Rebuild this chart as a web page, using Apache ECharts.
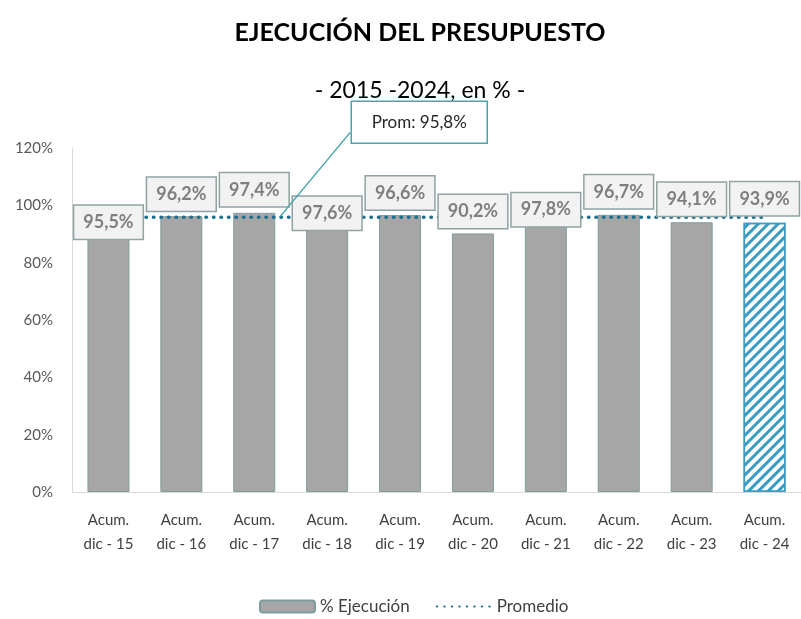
<!DOCTYPE html>
<html>
<head>
<meta charset="utf-8">
<script src="https://cdn.jsdelivr.net/npm/echarts@6/dist/echarts.min.js"></script>
<style>
	html, body { margin: 0; padding: 0; background: #fff; }
	#chart { width: 801px; height: 619px; }
</style>
</head>
<body>
<div id="chart"></div>
<script>
const categories = ['Acum.\ndic - 15', 'Acum.\ndic - 16', 'Acum.\ndic - 17', 'Acum.\ndic - 18', 'Acum.\ndic - 19',
	'Acum.\ndic - 20', 'Acum.\ndic - 21', 'Acum.\ndic - 22', 'Acum.\ndic - 23', 'Acum.\ndic - 24']
const ejecucion = [95.5, 96.2, 97.4, 97.6, 96.6, 90.2, 97.8, 96.7, 94.1, 93.9]
const promedio = 95.8
const yTicks = [0, 20, 40, 60, 80, 100, 120]

// vertical shift of each value box (Excel labels were moved by hand)
const labelShift = [4, -22, -23, 1, -22, -22, -2, -23, -23, -24]

const fmt = (v) => v.toFixed(1).replace('.', ',') + '%'
const FONT = 'Lato'

const chart = echarts.init(document.getElementById('chart'))

const barData = ejecucion.map((v, i) => {
	if (i === ejecucion.length - 1) {
		return {
			value: v,
			itemStyle: {
				color: '#ffffff',
				borderColor: '#3a9bc4',
				borderWidth: 1.5,
				decal: {
					symbol: 'rect',
					color: '#3a9bc4',
					dashArrayX: [1, 0],
					dashArrayY: [3, 3.5],
					rotation: -Math.PI / 4,
				},
			},
		}
	}
	return v
})

const option = {
	backgroundColor: '#ffffff',
	animation: false,
	title: [
		{
			text: 'EJECUCIÓN DEL PRESUPUESTO',
			left: 415,
			textAlign: 'center',
			top: 15,
			textStyle: { fontFamily: FONT, fontSize: 25, fontWeight: 'bold', color: '#000000' },
		},
		{
			text: '- 2015 -2024, en % -',
			left: 415,
			textAlign: 'center',
			top: 74,
			textStyle: { fontFamily: FONT, fontSize: 23, fontWeight: 'normal', color: '#000000' },
		},
	],
	legend: {
		data: [
			{ name: '% Ejecución' },
			{ name: 'Promedio', itemStyle: { opacity: 0 } },
		],
		bottom: -1,
		left: 254,
		itemWidth: 55,
		itemHeight: 12,
		itemGap: 26,
		textStyle: { fontFamily: FONT, fontSize: 17, color: '#404040' },
	},
	grid: { left: 72, width: 736, top: 148, bottom: 127 },
	xAxis: {
		type: 'category',
		data: categories,
		axisLine: { lineStyle: { color: '#d9d9d9', width: 1 } },
		axisTick: { show: false },
		axisLabel: {
			fontFamily: FONT,
			fontSize: 15,
			color: '#404040',
			lineHeight: 24,
			margin: 16,
			interval: 0,
		},
	},
	yAxis: {
		type: 'value',
		min: yTicks[0],
		max: yTicks[yTicks.length - 1],
		interval: 20,
		axisLine: { show: true, lineStyle: { color: '#d9d9d9', width: 1 } },
		axisTick: { show: false },
		splitLine: { show: false },
		axisLabel: {
			fontFamily: FONT,
			fontSize: 15,
			color: '#595959',
			margin: 19,
			formatter: '{value}%',
		},
	},
	series: [
		{
			name: '% Ejecución',
			type: 'bar',
			barWidth: 42,
			z: 1,
			itemStyle: { color: '#a6a6a6', borderColor: '#7f9c9c', borderWidth: 1 },
			data: barData,
		},
		{
			name: 'Promedio',
			type: 'line',
			z: 3,
			symbol: 'none',
			itemStyle: { color: '#1f6f8f' },
			lineStyle: { color: '#1f6f8f', width: 3.5, type: [0.5, 7], cap: 'round' },
			data: ejecucion.map(() => promedio),
		},
		{
			// value boxes above the bars
			name: 'labels',
			type: 'scatter',
			z: 5,
			symbolSize: 0,
			silent: true,
			itemStyle: { opacity: 1 },
			data: ejecucion.map((v, i) => ({
				value: v,
				label: { offset: [0, labelShift[i]] },
			})),
			label: {
				show: true,
				position: 'inside',
				formatter: (p) => fmt(p.value),
				fontFamily: FONT,
				fontSize: 18,
				fontWeight: 'bold',
				color: '#7f7f7f',
				backgroundColor: '#f2f2f2',
				borderColor: '#8fa3a3',
				borderWidth: 1.5,
				padding: [8, 9, 7, 9],
			},
		},
	],
}

chart.setOption(option)

// callout for the average, anchored on the average line
const anchor = chart.convertToPixel({ gridIndex: 0 }, [2, promedio])
const ax = anchor[0] + 26
const ay = anchor[1] - 1
chart.setOption({
	graphic: [
		{
			type: 'line',
			z: 10,
			shape: { x1: ax, y1: ay, x2: ax + 70, y2: ay - 84 },
			style: { stroke: '#4aa5aa', lineWidth: 1.5 },
		},
		{
			type: 'rect',
			z: 10,
			shape: { x: ax + 71, y: ay - 115, width: 136, height: 42 },
			style: { fill: '#ffffff', stroke: '#4aa5aa', lineWidth: 1.5 },
		},
		{
			type: 'text',
			z: 11,
			x: ax + 71 + 68,
			y: ay - 115 + 21,
			style: {
				text: 'Prom: ' + fmt(promedio),
				fontFamily: FONT,
				fontSize: 17,
				fill: '#262626',
				align: 'center',
				verticalAlign: 'middle',
			},
		},
	],
})
</script>
</body>
</html>
